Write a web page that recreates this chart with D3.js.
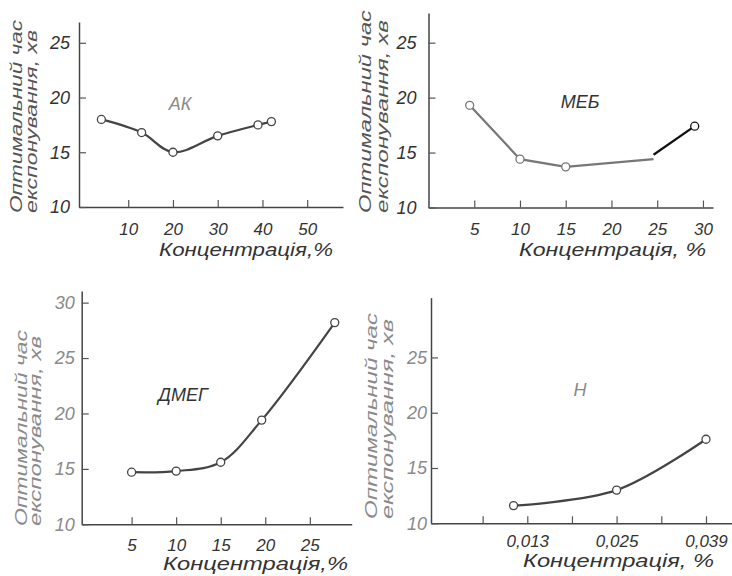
<!DOCTYPE html>
<html>
<head>
<meta charset="utf-8">
<script src="https://cdn.jsdelivr.net/npm/d3@7"></script>
<style>
  body { margin: 0; background: #fff; }
  text { font-family: 'Liberation Sans', 'DejaVu Sans', sans-serif; font-style: italic; }
</style>
</head>
<body>
<div id="chart"></div>
<script>
// АК
var akX = [4, 13, 20, 30, 39, 42];
var akY = [18.0, 16.8, 15.0, 16.5, 17.5, 17.8];
var akTicksX = [10, 20, 30, 40, 50];
var akTicksY = [10, 15, 20, 25];

// МЕБ (last piece is drawn darker in the scan)
var mebX = [4.5, 10, 15, 24.6];
var mebY = [19.3, 14.4, 13.7, 14.4];
var mebTailX = [24.6, 29.1];
var mebTailY = [14.8, 17.4];
var mebTicksX = [5, 10, 15, 20, 25, 30];
var mebTicksY = [10, 15, 20, 25];

// ДМЕГ
var dmegX = [5, 10, 15, 19.6, 27.8];
var dmegY = [14.7, 14.8, 15.6, 19.4, 28.2];
var dmegTicksX = [5, 10, 15, 20, 25];
var dmegTicksY = [10, 15, 20, 25, 30];

// Н
var nX = [0.011, 0.025, 0.039];
var nY = [11.6, 13.0, 17.6];
var nTicksX = [0.0065, 0.013, 0.019, 0.025, 0.032, 0.039];
var nTickLabels = {0.013: "0,013", 0.025: "0,025", 0.039: "0,039"};
var nTicksY = [10, 15, 20, 25];

var yTitle1 = "Оптимальний час";
var yTitle2 = "експонування, хв";

var svg = d3.select("#chart").append("svg")
  .attr("width", 732)
  .attr("height", 576);

var ink = "#333", faded = "#8a8a8a";

function panel(o) {
  var g = svg.append("g");
  var y0 = o.y.range()[0];
  var x0 = o.x.range()[0];

  // x axis, ticks point inward
  var xa = g.append("g")
    .attr("transform", "translate(0," + y0 + ")")
    .call(d3.axisBottom(o.x).tickValues(o.xTicks).tickSize(-7).tickSizeOuter(0).tickFormat(o.xFmt));
  // y axis
  var ya = g.append("g")
    .attr("transform", "translate(" + x0 + ",0)")
    .call(d3.axisLeft(o.y).tickValues(o.yTicks).tickSize(-7).tickSizeOuter(0).tickPadding(o.yPad));

  [xa, ya].forEach(function(a) {
    a.attr("font-family", null).attr("font-size", null);
    a.select(".domain").attr("stroke", "#444").attr("stroke-width", 1.5);
    a.selectAll(".tick line").attr("stroke", "#555").attr("stroke-width", 1.2);
  });
  xa.selectAll("text").attr("y", o.xLabY).attr("dy", 0)
    .style("font-size", "17px").attr("fill", o.xCol);
  ya.selectAll("text").style("font-size", "18px").attr("fill", o.yCol);

  // x title
  g.append("text")
    .attr("x", o.xt[0]).attr("y", o.xt[1])
    .attr("textLength", o.xt[2]).attr("lengthAdjust", "spacingAndGlyphs")
    .style("font-size", "18px").attr("fill", ink)
    .text(o.xTitle);

  // y title, two lines
  [yTitle1, yTitle2].forEach(function(t, i) {
    g.append("text")
      .attr("transform", "translate(" + o.yt[i][0] + "," + o.yt[2] + ") rotate(-90)")
      .attr("textLength", o.yt[i][1]).attr("lengthAdjust", "spacingAndGlyphs")
      .style("font-size", "17px").attr("fill", o.ytCol)
      .text(t);
  });

  // curves
  o.series.forEach(function(s) {
    var pts = s.x.map(function(d, i) { return [d, s.y[i]]; });
    g.append("path")
      .datum(pts)
      .attr("fill", "none")
      .attr("stroke", s.color)
      .attr("stroke-width", 2.2)
      .attr("d", d3.line()
        .x(function(d) { return o.x(d[0]); })
        .y(function(d) { return o.y(d[1]); })
        .curve(s.curve));
    g.selectAll(null)
      .data(pts.filter(function(d, i) { return s.marks.indexOf(i) >= 0; }))
      .enter()
      .append("circle")
      .attr("cx", function(d) { return o.x(d[0]); })
      .attr("cy", function(d) { return o.y(d[1]); })
      .attr("r", 4)
      .attr("fill", "#fff")
      .attr("stroke", s.color)
      .attr("stroke-width", 1.3);
  });

  // panel label
  g.append("text")
    .attr("x", o.lab[0]).attr("y", o.lab[1])
    .attr("text-anchor", "middle")
    .style("font-size", "18px").attr("fill", o.labCol)
    .text(o.label);
}

var smooth = d3.curveCatmullRom.alpha(0.5);

panel({
  x: d3.scaleLinear().domain([-1, 58]).range([79, 343]),
  y: d3.scaleLinear().domain([10, 26.9]).range([207, 22]),
  xTicks: akTicksX, yTicks: akTicksY, xFmt: d3.format("d"),
  yPad: 9, xLabY: 28, xCol: ink, yCol: ink, ytCol: "#555",
  xTitle: "Концентрація,%", xt: [159, 256, 174],
  yt: [[22, 193], [37, 183], 213],
  series: [{x: akX, y: akY, curve: smooth, color: "#444", marks: [0, 1, 2, 3, 4, 5]}],
  label: "АК", lab: [180, 110], labCol: faded
});

panel({
  x: d3.scaleLinear().domain([0, 31.1]).range([428.5, 713]),
  y: d3.scaleLinear().domain([10, 27.7]).range([207.5, 13]),
  xTicks: mebTicksX, yTicks: mebTicksY, xFmt: d3.format("d"),
  yPad: 12, xLabY: 27, xCol: ink, yCol: ink, ytCol: "#555",
  xTitle: "Концентрація, %", xt: [519, 256, 187],
  yt: [[371, 203], [388, 193], 213],
  series: [
    {x: mebX, y: mebY, curve: d3.curveLinear, color: "#777", marks: [0, 1, 2]},
    {x: mebTailX, y: mebTailY, curve: d3.curveLinear, color: "#111", marks: [1]}
  ],
  label: "МЕБ", lab: [580, 108], labCol: ink
});

panel({
  x: d3.scaleLinear().domain([-0.6, 29.7]).range([81.7, 351.7]),
  y: d3.scaleLinear().domain([10, 31.05]).range([524.3, 291]),
  xTicks: dmegTicksX, yTicks: dmegTicksY, xFmt: d3.format("d"),
  yPad: 7, xLabY: 27, xCol: ink, yCol: faded, ytCol: faded,
  xTitle: "Концентрація,%", xt: [163, 570, 185],
  yt: [[27, 196], [41, 190], 526],
  series: [{x: dmegX, y: dmegY, curve: smooth, color: "#444", marks: [0, 1, 2, 3, 4]}],
  label: "ДМЕГ", lab: [183, 401], labCol: ink
});

panel({
  x: d3.scaleLinear()
    .domain([-0.00104, 0, 0.013, 0.025, 0.039, 0.0431])
    .range([431, 438, 527.3, 616.6, 706, 732]),
  y: d3.scaleLinear().domain([10, 30.4]).range([523.3, 297.7]),
  xTicks: nTicksX, yTicks: nTicksY,
  xFmt: function(d) { return nTickLabels[d] || ""; },
  yPad: 4, xLabY: 24, xCol: ink, yCol: faded, ytCol: faded,
  xTitle: "Концентрація, %", xt: [523, 567, 191],
  yt: [[377, 206], [393, 200], 519],
  series: [{x: nX, y: nY, curve: smooth, color: "#444", marks: [0, 1, 2]}],
  label: "Н", lab: [580, 396], labCol: faded
});
</script>
</body>
</html>
